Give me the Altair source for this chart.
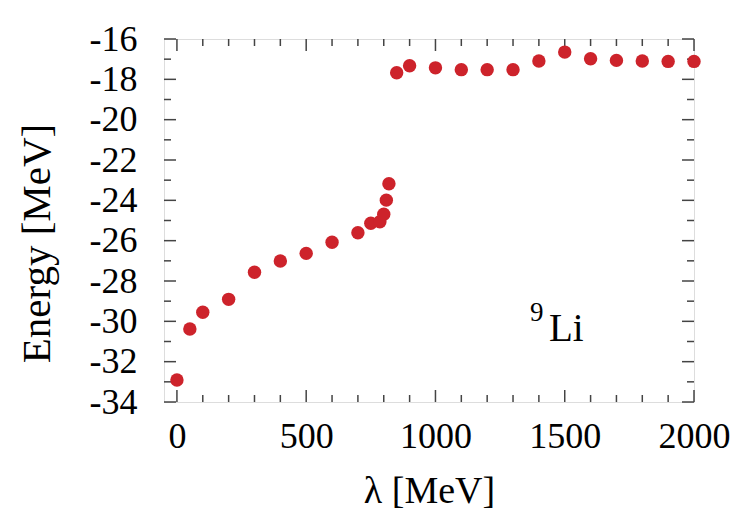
import altair as alt
import pandas as pd

# ---- data ----
lam_low = [0, 50, 100, 200, 300, 400, 500, 600, 700, 750, 785, 800, 810, 820]
E_low = [-32.91, -30.38, -29.55, -28.91, -27.57, -27.01, -26.63, -26.08, -25.61,
         -25.14, -25.06, -24.69, -23.99, -23.18]
lam_high = [850, 900, 1000, 1100, 1200, 1300, 1400, 1500, 1600, 1700, 1800, 1900, 2000]
E_high = [-17.67, -17.33, -17.43, -17.52, -17.52, -17.52, -17.09, -16.65, -16.98,
          -17.06, -17.09, -17.11, -17.11]

x_major = [0, 500, 1000, 1500, 2000]
x_minor = [100, 200, 300, 400, 600, 700, 800, 900, 1100, 1200, 1300, 1400,
           1600, 1700, 1800, 1900]
y_major = [-34, -32, -30, -28, -26, -24, -22, -20, -18, -16]
y_minor = [-33, -31, -29, -27, -25, -23, -21, -19, -17]

label_nuc = ["Li"]
label_sup = ["9"]
label_nuc_pos = [(1439, -30.98)]
label_sup_pos = [(1366, -29.98)]

W, H = 530, 363
FONT = "Liberation Serif"
RED = "#cd232b"

pts = pd.DataFrame({"lam": lam_low + lam_high, "E": E_low + E_high})

xs = alt.Scale(domain=[-50, 2000], nice=False, zero=False)
ys = alt.Scale(domain=[-34, -16], nice=False, zero=False)

points = alt.Chart(pts).mark_circle(size=180, color=RED, opacity=1).encode(
    x=alt.X("lam:Q", scale=xs,
            axis=alt.Axis(title="λ [MeV]", values=x_major, ticks=False, domain=False,
                          grid=False, labelFont=FONT, labelFontSize=36,
                          labelExpr="'' + datum.value",
                          labelColor="black", labelPadding=17, labelFlush=False,
                          labelOverlap=False, titleFont=FONT, titleFontSize=38,
                          titleFontWeight="normal", titleColor="black",
                          titleY=100, titleBaseline="alphabetic")),
    y=alt.Y("E:Q", scale=ys,
            axis=alt.Axis(title="Energy [MeV]", values=y_major, ticks=False,
                          domain=False, grid=False, labelFont=FONT, labelFontSize=36,
                          labelExpr="'' + datum.value",
                          labelColor="black", labelPadding=27, labelFlush=False,
                          labelOverlap=False, titleFont=FONT, titleFontSize=41,
                          titleFontWeight="normal", titleColor="black",
                          titleX=-127, titleY=204, titleAngle=270,
                          titleAlign="center", titleBaseline="middle")),
)


def xticks(vals, length):
    d = pd.DataFrame({"v": vals})
    b = alt.Chart(d).mark_rule(color="#444444", strokeWidth=1.5).encode(
        x=alt.X("v:Q", scale=xs), y=alt.value(H), y2=alt.value(H - length))
    t = alt.Chart(d).mark_rule(color="#444444", strokeWidth=1.5).encode(
        x=alt.X("v:Q", scale=xs), y=alt.value(0), y2=alt.value(length))
    return [b, t]


def yticks(vals, length):
    d = pd.DataFrame({"v": vals})
    l = alt.Chart(d).mark_rule(color="#444444", strokeWidth=1.5).encode(
        y=alt.Y("v:Q", scale=ys), x=alt.value(0), x2=alt.value(length))
    r = alt.Chart(d).mark_rule(color="#444444", strokeWidth=1.5).encode(
        y=alt.Y("v:Q", scale=ys), x=alt.value(W), x2=alt.value(W - length))
    return [l, r]


tick_layers = xticks(x_major, 12) + xticks(x_minor, 7) + yticks(y_major, 12) + yticks(y_minor, 7)

nuc_df = pd.DataFrame({"x": [p[0] for p in label_nuc_pos],
                       "y": [p[1] for p in label_nuc_pos], "t": label_nuc})
sup_df = pd.DataFrame({"x": [p[0] for p in label_sup_pos],
                       "y": [p[1] for p in label_sup_pos], "t": label_sup})

nuc = alt.Chart(nuc_df).mark_text(font=FONT, fontSize=39, align="left",
                                  baseline="alphabetic", color="black").encode(
    x=alt.X("x:Q", scale=xs), y=alt.Y("y:Q", scale=ys), text="t:N")
sup = alt.Chart(sup_df).mark_text(font=FONT, fontSize=27, align="left",
                                  baseline="alphabetic", color="black").encode(
    x=alt.X("x:Q", scale=xs), y=alt.Y("y:Q", scale=ys), text="t:N")

chart = alt.layer(*tick_layers, points, nuc, sup).properties(
    width=W, height=H,
    autosize=alt.AutoSizeParams(type="none"),
    padding={"left": 156, "top": 31, "right": 39, "bottom": 109},
).configure_view(stroke="black", strokeWidth=2).configure(background="white")

chart.save("out.html", embed_options={"renderer": "svg", "actions": False})
